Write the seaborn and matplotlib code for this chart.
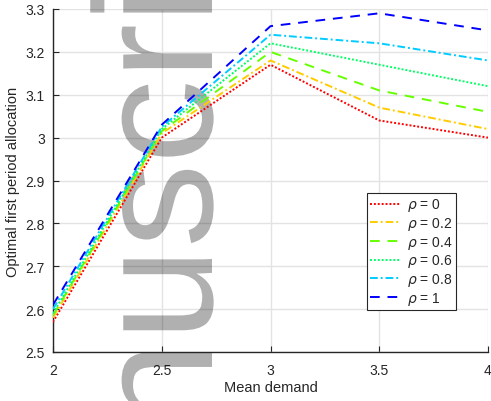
import numpy as np
import pandas as pd
import seaborn as sns
import matplotlib
matplotlib.use("Agg")
import matplotlib.pyplot as plt
from matplotlib.ticker import FormatStrFormatter
from matplotlib.textpath import TextPath
from matplotlib.patches import PathPatch
from matplotlib.font_manager import FontProperties
from matplotlib.transforms import Affine2D

# Mean demand levels
mean_demand = [2.0, 2.5, 3.0, 3.5, 4.0]

# Optimal first-period allocation for each correlation level rho
alloc_rho_0 = [2.57, 3.00, 3.17, 3.04, 3.00]
alloc_rho_02 = [2.58, 3.01, 3.18, 3.07, 3.02]
alloc_rho_04 = [2.585, 3.015, 3.20, 3.11, 3.06]
alloc_rho_06 = [2.59, 3.02, 3.22, 3.17, 3.12]
alloc_rho_08 = [2.60, 3.025, 3.24, 3.22, 3.18]
alloc_rho_1 = [2.61, 3.03, 3.26, 3.29, 3.25]

rho_labels = [r"$\rho$ = 0", r"$\rho$ = 0.2", r"$\rho$ = 0.4",
              r"$\rho$ = 0.6", r"$\rho$ = 0.8", r"$\rho$ = 1"]
series = [alloc_rho_0, alloc_rho_02, alloc_rho_04,
          alloc_rho_06, alloc_rho_08, alloc_rho_1]

x_ticks = [2, 2.5, 3, 3.5, 4]
y_ticks = [2.5, 2.6, 2.7, 2.8, 2.9, 3.0, 3.1, 3.2, 3.3]

colors = ["#ff0000", "#ffcc00", "#66ff00", "#00ff66", "#00ccff", "#0000ff"]
styles = [(0, (1, 1)), (0, (4, 1.5, 1, 1.5)), (0, (5, 4)),
          (0, (1, 1)), (0, (4, 1.5, 1, 1.5)), (0, (5, 4))]

sns.set_theme(style="white")
plt.rcParams["font.family"] = ["Liberation Sans", "DejaVu Sans"]
plt.rcParams["mathtext.fontset"] = "dejavusans"

W, H = 491, 402
fig = plt.figure(figsize=(W / 100, H / 100), dpi=100)
ax = fig.add_axes([53 / W, 49 / H, 435 / W, 343 / H])

df = pd.DataFrame({
    "demand": np.tile(mean_demand, len(series)),
    "alloc": np.concatenate(series),
    "rho": np.repeat(rho_labels, len(mean_demand)),
})

for lab, col, ls in zip(rho_labels, colors, styles):
    sub = df[df["rho"] == lab]
    sns.lineplot(data=sub, x="demand", y="alloc", ax=ax, color=col,
                 linewidth=1.4, label=lab, zorder=3)
    ax.lines[-1].set_linestyle(ls)

ax.set_xlim(2, 4)
ax.set_ylim(2.5, 3.3)
ax.set_xticks(x_ticks)
ax.set_yticks(y_ticks)
ax.xaxis.set_major_formatter(FormatStrFormatter("%g"))
ax.yaxis.set_major_formatter(FormatStrFormatter("%g"))
ax.grid(True, color="#e3e3e3", linewidth=1.0)
ax.set_axisbelow(True)

for side in ["top", "right"]:
    ax.spines[side].set_visible(False)
for side in ["left", "bottom"]:
    ax.spines[side].set_color("#262626")
    ax.spines[side].set_linewidth(1.0)
ax.tick_params(direction="in", length=4, width=0.8, colors="#262626",
               labelsize=10, pad=6, left=True, bottom=True)
ax.tick_params(axis="x", pad=8)

ax.set_xlabel("Mean demand", fontsize=10.5, color="#262626", labelpad=2)
ax.set_ylabel("Optimal first period allocation", fontsize=10.5,
              color="#262626", labelpad=4)

leg = ax.legend(loc="upper left", bbox_to_anchor=(367 / W, 1 - 194 / H),
                bbox_transform=fig.transFigure, frameon=True, fancybox=False,
                edgecolor="#262626", framealpha=1, fontsize=10,
                handlelength=2.2, handletextpad=0.4, labelspacing=0.12,
                borderpad=0.25, borderaxespad=0)
leg.get_frame().set_linewidth(0.8)
leg.set_zorder(5)

# Rotated manuscript watermark, drawn as an outline path in pixel units
wm_path = TextPath((0, 0), "Manuscript", size=168,
                   prop=FontProperties(family="Liberation Sans"))
wm_trans = Affine2D().rotate_deg(90).translate(212, H - 669) \
    + Affine2D().scale(1 / W, 1 / H) + fig.transFigure
wm = PathPatch(wm_path, transform=wm_trans, facecolor="black",
               edgecolor="none", alpha=0.31, zorder=1.5, clip_on=False)
ax.add_artist(wm)

fig.savefig("out.png", dpi=100)
